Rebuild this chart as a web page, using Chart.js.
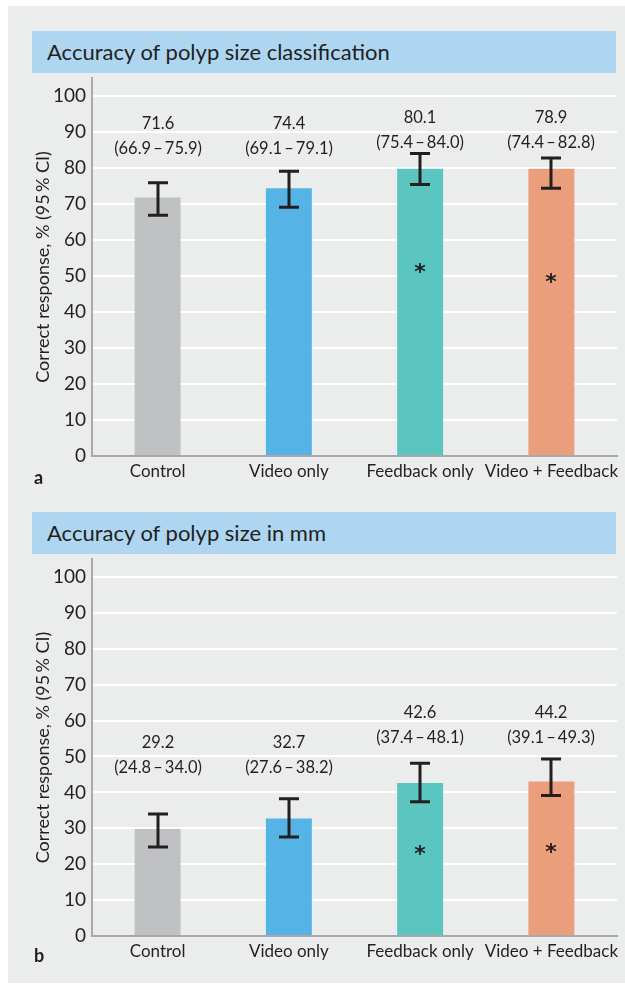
<!DOCTYPE html>
<html>
<head>
<meta charset="utf-8">
<script src="https://cdn.jsdelivr.net/npm/chart.js@4/dist/chart.umd.min.js"></script>
<style>
  body { margin: 0; background: #fff; font-family: Lato, sans-serif; color: #231f20; }
  #page { position: absolute; left: 8px; top: 6px; width: 617px; height: 977px; background: #ebecec; }
  .head { position: absolute; left: 24px; width: 584px; height: 42px; background: #aed6f1;
          font-size: 22px; line-height: 42px; padding-left: 15px; box-sizing: border-box; }
  .box { position: absolute; left: 0; width: 617px; }
  .tag { position: absolute; left: 26px; font-size: 18px; font-weight: bold; line-height: 20px; }
</style>
</head>
<body>
<div id="page">
  <div class="head" style="top:25px">Accuracy of polyp size classification</div>
  <div class="box" style="top:67px;height:420px"><canvas id="chartA"></canvas></div>
  <div class="tag" style="top:461px">a</div>

  <div class="head" style="top:506px">Accuracy of polyp size in mm</div>
  <div class="box" style="top:548px;height:419px"><canvas id="chartB"></canvas></div>
  <div class="tag" style="top:939px">b</div>
</div>

<script>
// categories and colours
const categories = ["Control", "Video only", "Feedback only", "Video + Feedback"];
const barColors = ["#c0c1c3", "#55b3e5", "#5bc5bf", "#eb9e7c"];

// panel a: size classification
const classValues = [71.8, 74.4, 79.8, 79.8];
const classLow = [66.9, 69.1, 75.4, 74.4];
const classHigh = [75.9, 79.1, 84.0, 82.8];
const classMeans = ["71.6", "74.4", "80.1", "78.9"];
const classStars = [null, null, 52.4, 49.6];

// panel b: size in mm
const mmValues = [29.8, 32.7, 42.6, 43.0];
const mmLow = [24.8, 27.6, 37.4, 39.1];
const mmHigh = [34.0, 38.2, 48.1, 49.3];
const mmMeans = ["29.2", "32.7", "42.6", "44.2"];
const mmStars = [null, null, 24.2, 24.7];

const ink = "#231f20";

// error bars, mean/CI text and asterisks
const extras = {
    id: "extras",
    afterDatasetsDraw(chart, args, opts){
        const ctx = chart.ctx;
        const y = chart.scales.y;
        const ds = chart.data.datasets[0];
        const bars = chart.getDatasetMeta(0).data;

        ctx.save();
        ctx.strokeStyle = ink;
        ctx.fillStyle = ink;
        ctx.lineWidth = 3;
        bars.forEach((bar, i)=>{
            const x = Math.round(bar.x);
            const top = y.getPixelForValue(ds.high[i]);
            const bot = y.getPixelForValue(ds.low[i]);
            ctx.beginPath();
            ctx.moveTo(x, top); ctx.lineTo(x, bot);
            ctx.moveTo(x - 10, top); ctx.lineTo(x + 10, top);
            ctx.moveTo(x - 10, bot); ctx.lineTo(x + 10, bot);
            ctx.stroke();

            // mean and CI text
            ctx.font = "16.5px Lato";
            ctx.textAlign = "center";
            ctx.textBaseline = "middle";
            const ty = y.getPixelForValue(opts.textAt[i]);
            ctx.fillText(opts.means[i], x, ty);
            ctx.fillText("(" + ds.low[i].toFixed(1) + "\u2009\u2013\u2009" + ds.high[i].toFixed(1) + ")", x, ty + 25);

            if(opts.stars[i] !== null){
                ctx.font = "bold 22px 'DejaVu Sans'";
                ctx.textBaseline = "alphabetic";
                ctx.fillText("*", x, y.getPixelForValue(opts.stars[i]) + 12);
            }
        });
        ctx.restore();
    }
};

function makeChart(id, values, low, high, means, stars, textAt){
    new Chart(document.getElementById(id), {
        type: "bar",
        data: {
            labels: categories,
            datasets: [{
                data: values,
                low: low,
                high: high,
                backgroundColor: barColors,
                barPercentage: 0.35,
                categoryPercentage: 1
            }]
        },
        options: {
            responsive: true,
            maintainAspectRatio: false,
            animation: false,
            layout: { padding: { top: 5, right: 8, left: 0, bottom: 0 } },
            plugins: {
                legend: { display: false },
                tooltip: { enabled: false },
                extras: { means: means, stars: stars, textAt: textAt }
            },
            scales: {
                x: {
                    grid: { display: false, drawTicks: false },
                    border: { color: "#a9a9a9", width: 2 },
                    ticks: { color: ink, font: { family: "Lato", size: 17 }, padding: 5,
                             autoSkip: false, maxRotation: 0, minRotation: 0 },
                    afterFit(scale){
                        scale.height = 37;
                        scale.paddingLeft = 0;
                        scale.paddingRight = 0;
                    }
                },
                y: {
                    min: 0,
                    max: 105,
                    bounds: "data",
                    grid: { color: "#ffffff", lineWidth: 2, drawTicks: false },
                    border: { color: "#a9a9a9", width: 2 },
                    ticks: { stepSize: 10, color: ink, padding: 6,
                             font: { family: "Lato", size: 19 } },
                    title: { display: true, text: "Correct response, % (95\u2009% CI)", color: ink,
                             font: { family: "Lato", size: 18 }, padding: { top: 24, bottom: 0 } },
                    afterBuildTicks(scale){
                        scale.ticks = scale.ticks.filter(t => t.value <= 100);
                    },
                    afterFit(scale){
                        scale.width = 84;
                        scale.paddingTop = 0;
                        scale.paddingBottom = 0;
                    }
                }
            }
        },
        plugins: [extras]
    });
}

makeChart("chartA", classValues, classLow, classHigh, classMeans, classStars, [92.2, 92.2, 93.9, 93.9]);
makeChart("chartB", mmValues, mmLow, mmHigh, mmMeans, mmStars, [53.8, 53.8, 62.3, 62.3]);
</script>
</body>
</html>
